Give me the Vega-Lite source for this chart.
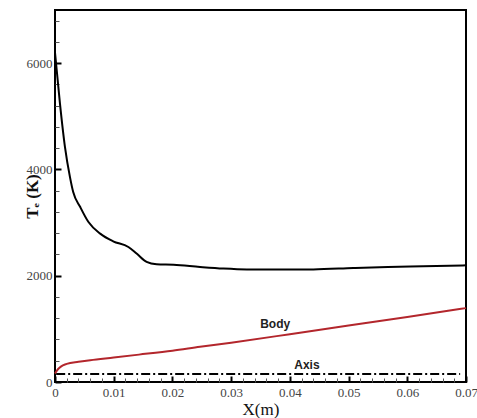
{
  "$schema": "https://vega.github.io/schema/vega-lite/v6.json",
  "width": 411,
  "height": 372,
  "autosize": {"type": "none"},
  "padding": {"left": 55, "top": 10, "right": 11, "bottom": 36},
  "background": "white",
  "config": {
    "view": {"stroke": "black", "strokeWidth": 2},
    "axis": {"grid": false, "domain": false, "ticks": true, "tickColor": "black", "zindex": 1}
  },
  "datasets": {
    "te": [
      {"x": 0.0, "T": 6200},
      {"x": 0.00085, "T": 5234},
      {"x": 0.0017, "T": 4419},
      {"x": 0.00255, "T": 3855},
      {"x": 0.0031, "T": 3574},
      {"x": 0.0043, "T": 3292},
      {"x": 0.0057, "T": 3010},
      {"x": 0.0077, "T": 2792},
      {"x": 0.0099, "T": 2648},
      {"x": 0.0125, "T": 2541},
      {"x": 0.0139, "T": 2417},
      {"x": 0.0156, "T": 2260},
      {"x": 0.0173, "T": 2215},
      {"x": 0.0202, "T": 2205},
      {"x": 0.0247, "T": 2165},
      {"x": 0.0287, "T": 2135},
      {"x": 0.0327, "T": 2118},
      {"x": 0.038, "T": 2115},
      {"x": 0.044, "T": 2118},
      {"x": 0.0508, "T": 2145},
      {"x": 0.0567, "T": 2165},
      {"x": 0.0627, "T": 2178},
      {"x": 0.07, "T": 2195}
    ],
    "body": [
      {"x": 0.0, "T": 160},
      {"x": 0.0005, "T": 240},
      {"x": 0.001, "T": 290},
      {"x": 0.002, "T": 340},
      {"x": 0.004, "T": 380},
      {"x": 0.006, "T": 410},
      {"x": 0.01, "T": 460},
      {"x": 0.0143, "T": 515},
      {"x": 0.02, "T": 590},
      {"x": 0.0247, "T": 663},
      {"x": 0.03, "T": 740},
      {"x": 0.04, "T": 900},
      {"x": 0.05, "T": 1065},
      {"x": 0.06, "T": 1225},
      {"x": 0.07, "T": 1390}
    ],
    "axisline": [
      {"x": 0.0002, "T": 150},
      {"x": 0.069, "T": 150}
    ],
    "labels": [
      {"x": 0.0375, "T": 1090, "label": "Body"},
      {"x": 0.0429, "T": 320, "label": "Axis"}
    ]
  },
  "layer": [
    {
      "data": {"name": "te"},
      "mark": {"type": "line", "color": "black", "strokeWidth": 2, "interpolate": "monotone"},
      "encoding": {
        "x": {
          "field": "x", "type": "quantitative",
          "scale": {"domain": [0, 0.07], "nice": false},
          "axis": {
            "orient": "bottom",
            "offset": -6,
            "values": [0, 0.01, 0.02, 0.03, 0.04, 0.05, 0.06, 0.07],
            "labelExpr": "datum.value == 0 ? '0' : format(datum.value, '.2f')",
            "tickSize": 6, "tickWidth": 2,
            "labelPadding": 4,
            "labelFont": "Liberation Serif", "labelFontSize": 13, "labelColor": "#444",
            "labelFlush": false,
            "title": "X(m)", "titleFont": "Liberation Serif", "titleFontSize": 17, "titleFontWeight": "normal",
            "titleColor": "#111", "titleY": 25, "titleBaseline": "top"
          }
        },
        "y": {
          "field": "T", "type": "quantitative",
          "scale": {"domain": [0, 7000], "nice": false},
          "axis": {
            "orient": "left",
            "offset": -6,
            "values": [0, 2000, 4000, 6000],
            "format": "d",
            "tickSize": 6, "tickWidth": 2,
            "labelPadding": 3,
            "labelFont": "Liberation Serif", "labelFontSize": 13, "labelColor": "#444",
            "labelFlush": false,
            "title": "Tₑ (K)", "titleFont": "Liberation Serif", "titleFontSize": 17, "titleFontWeight": "bold",
            "titleColor": "#111", "titleX": -20, "titleY": 186, "titleAngle": -90, "titleAlign": "center", "titleBaseline": "bottom"
          }
        }
      }
    },
    {
      "data": {"name": "body"},
      "mark": {"type": "line", "color": "#b3262c", "strokeWidth": 2, "interpolate": "monotone"},
      "encoding": {
        "x": {
          "field": "x", "type": "quantitative",
          "axis": {
            "orient": "bottom",
            "offset": -4,
            "values": [0.002, 0.004, 0.006, 0.008, 0.012, 0.014, 0.016, 0.018, 0.022, 0.024, 0.026, 0.028, 0.032, 0.034, 0.036, 0.038, 0.042, 0.044, 0.046, 0.048, 0.052, 0.054, 0.056, 0.058, 0.062, 0.064, 0.066, 0.068],
            "labels": false, "tickSize": 4, "tickWidth": 1, "tickColor": "#555", "title": null
          }
        },
        "y": {
          "field": "T", "type": "quantitative",
          "axis": {
            "orient": "left",
            "offset": -4,
            "values": [400, 800, 1200, 1600, 2400, 2800, 3200, 3600, 4400, 4800, 5200, 5600, 6400, 6800],
            "labels": false, "tickSize": 4, "tickWidth": 1, "tickColor": "#555", "title": null
          }
        }
      }
    },
    {
      "data": {"name": "axisline"},
      "mark": {"type": "line", "color": "black", "strokeWidth": 2, "strokeDash": [9, 3, 2, 3]},
      "encoding": {
        "x": {"field": "x", "type": "quantitative", "axis": null},
        "y": {"field": "T", "type": "quantitative", "axis": null}
      }
    },
    {
      "data": {"name": "labels"},
      "mark": {"type": "text", "font": "Liberation Sans", "fontSize": 12, "fontWeight": "bold", "color": "#222", "align": "center", "baseline": "middle"},
      "encoding": {
        "x": {"field": "x", "type": "quantitative", "axis": null},
        "y": {"field": "T", "type": "quantitative", "axis": null},
        "text": {"field": "label"}
      }
    }
  ],
  "resolve": {"axis": {"x": "independent", "y": "independent"}}
}
